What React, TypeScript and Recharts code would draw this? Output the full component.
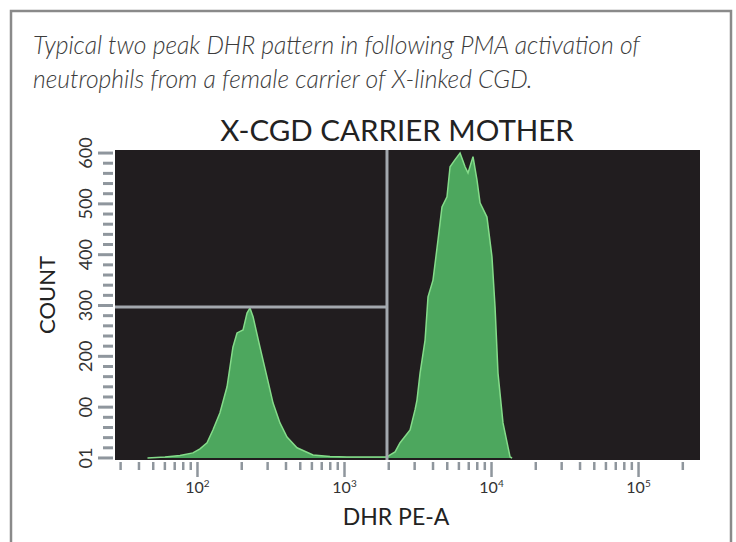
import React from 'react';
import { ComposedChart, Area, XAxis, YAxis, CartesianGrid, ReferenceLine } from 'recharts';

// Histogram: x = log10(DHR PE-A intensity), y = event count
const dhrLog = [
  1.66, 1.72, 1.779, 1.881, 1.969, 2.017, 2.065, 2.105, 2.153,
  2.201, 2.241, 2.269, 2.31, 2.337, 2.357, 2.378, 2.425, 2.473, 2.514,
  2.561, 2.609, 2.677, 2.786, 2.901, 3.017, 3.173, 3.289,
  3.31, 3.344, 3.378, 3.446, 3.48, 3.493, 3.514, 3.548, 3.568, 3.602,
  3.636, 3.663, 3.697, 3.718, 3.752, 3.786, 3.82, 3.84, 3.874, 3.901,
  3.922, 3.969, 4.003, 4.024, 4.044, 4.078, 4.126, 4.14,
];
const cellCount = [
  0, 1, 2, 5, 10, 18, 30, 55, 89,
  140, 218, 246, 252, 285, 295, 278, 218, 159, 108,
  69, 41, 20, 6, 3, 2, 2, 2,
  6, 12, 30, 55, 95, 114, 167, 232, 317, 350,
  429, 494, 514, 573, 587, 600, 573, 561, 593, 547,
  502, 474, 396, 297, 167, 69, 2, 0,
];

const xDomain = [1.439, 5.418];
const yDomain = [-4, 606];
const xMajorTicks = [2, 3, 4, 5];
const xTickExponents = ['2', '3', '4', '5'];
const yMajorTicks = [0, 100, 200, 300, 400, 500, 600];
const yTickLabels = ['01', '00', '200', '300', '400', '500', '600'];
const gateX = 3.289;
const gateY = 297;

const xTicks: number[] = [];
for (let d = 1; d <= 5; d++) {
  for (let k = 1; k <= 9; k++) {
    const v = d + Math.log10(k);
    if (v >= xDomain[0] && v <= xDomain[1]) xTicks.push(Number(v.toFixed(6)));
  }
}
const yTicks: number[] = [];
for (let v = 0; v <= 600; v += 20) yTicks.push(v);

const data = dhrLog.map((x, i) => ({ x, count: cellCount[i] }));

const FONT = 'Lato, "Open Sans", sans-serif';
const TICK_COLOR = '#8f969d';

const XTick = (props: any) => {
  const { x, y, payload } = props;
  const v = payload.value;
  const idx = xMajorTicks.findIndex((m) => Math.abs(m - v) < 1e-6);
  const major = idx >= 0;
  return (
    <g>
      <line x1={x} x2={x} y1={y + 2} y2={y + (major ? 17 : 10)} stroke={TICK_COLOR} strokeWidth={2.5} />
      {major && (
        <text x={x} y={y + 33} textAnchor="middle" fontSize={16} fill="#333" fontFamily={FONT}>
          10
          <tspan dy={-6} fontSize={10}>{xTickExponents[idx]}</tspan>
        </text>
      )}
    </g>
  );
};

const YTick = (props: any) => {
  const { x, y, payload } = props;
  const v = payload.value;
  const idx = yMajorTicks.indexOf(v);
  const major = idx >= 0;
  const tx = x - 30;
  return (
    <g>
      <line x1={x - (major ? 17 : 12)} x2={x - 2} y1={y} y2={y} stroke={TICK_COLOR} strokeWidth={3} />
      {major && (
        <text
          x={tx}
          y={y}
          transform={`rotate(-90 ${tx} ${y})`}
          textAnchor="middle"
          dominantBaseline="central"
          fontSize={18}
          fill="#333"
          fontFamily={FONT}
        >
          {yTickLabels[idx]}
        </text>
      )}
    </g>
  );
};

export default function App() {
  return (
    <div style={{ position: 'absolute', left: 0, top: 0, width: 736, height: 542, overflow: 'hidden', background: '#fff' }}>
      <svg width={736} height={542} style={{ position: 'absolute', left: 0, top: 0 }}>
        <path d="M11,542 V11 H731 V542" fill="none" stroke="#8a8a8a" strokeWidth={2.5} />
        <text x={33} y={54} fontStyle="italic" fontWeight={300} fontSize={24.7} fill="#3c3c3c" fontFamily={FONT}>
          Typical two peak DHR pattern in following PMA activation of
        </text>
        <text x={33} y={88} fontStyle="italic" fontWeight={300} fontSize={24.7} fill="#3c3c3c" fontFamily={FONT}>
          neutrophils from a female carrier of X-linked CGD.
        </text>
        <text x={397} y={141} textAnchor="middle" fontSize={29.5} fill="#222" fontFamily={FONT}>
          X-CGD CARRIER MOTHER
        </text>
        <text
          x={46}
          y={295}
          transform="rotate(-90 46 295)"
          textAnchor="middle"
          dominantBaseline="central"
          fontSize={22}
          fill="#222"
          fontFamily={FONT}
        >
          COUNT
        </text>
        <text x={396} y={525} textAnchor="middle" fontSize={23} fill="#222" fontFamily={FONT}>
          DHR PE-A
        </text>
      </svg>
      <div style={{ position: 'absolute', left: 0, top: 0 }}>
        <ComposedChart width={736} height={542} data={data} margin={{ top: 150, right: 36, bottom: 0, left: 0 }}>
          <CartesianGrid horizontal={false} vertical={false} fill="#211d1f" fillOpacity={1} />
          <XAxis
            type="number"
            dataKey="x"
            domain={xDomain}
            allowDataOverflow
            ticks={xTicks}
            interval={0}
            height={82}
            tickSize={0}
            tickMargin={0}
            axisLine={false}
            tickLine={false}
            tick={<XTick />}
          />
          <YAxis
            type="number"
            domain={yDomain}
            allowDataOverflow
            ticks={yTicks}
            interval={0}
            width={115}
            tickSize={0}
            tickMargin={0}
            axisLine={false}
            tickLine={false}
            tick={<YTick />}
          />
          <Area
            type="linear"
            dataKey="count"
            fill="#4da75e"
            fillOpacity={1}
            stroke="#85dc8a"
            strokeWidth={1.5}
            dot={false}
            activeDot={false}
            isAnimationActive={false}
          />
          <ReferenceLine x={gateX} stroke="#a3a8ae" strokeWidth={3} />
          <ReferenceLine
            segment={[
              { x: xDomain[0], y: gateY },
              { x: gateX, y: gateY },
            ]}
            stroke="#a3a8ae"
            strokeWidth={3}
          />
        </ComposedChart>
      </div>
    </div>
  );
}
